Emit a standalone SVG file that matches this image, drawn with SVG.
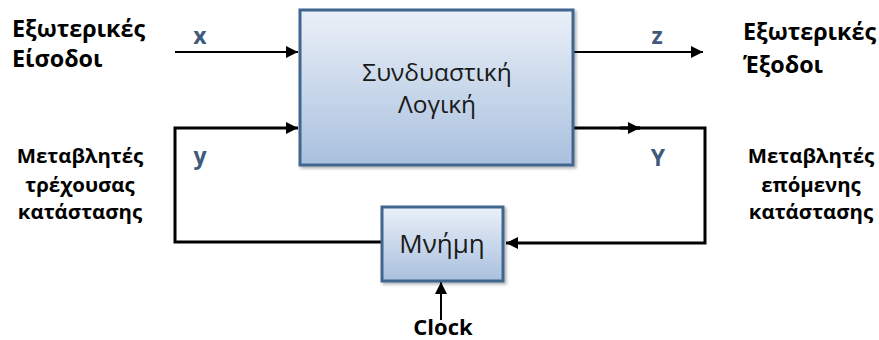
<svg xmlns="http://www.w3.org/2000/svg" width="879" height="340" viewBox="0 0 879 340">
<defs>
<linearGradient id="g" x1="0" y1="0" x2="0" y2="1">
<stop offset="0" stop-color="#EAF0F8"/>
<stop offset="1" stop-color="#A9C0DE"/>
</linearGradient>
<marker id="ah" viewBox="0 0 10 10" refX="10" refY="5" markerWidth="16" markerHeight="12" markerUnits="userSpaceOnUse" orient="auto">
<path d="M0,0 L10,5 L0,10 z" fill="#000"/>
</marker>
<filter id="sh" x="-10%" y="-10%" width="130%" height="130%">
<feDropShadow dx="2" dy="2" stdDeviation="1.5" flood-color="#000" flood-opacity="0.3"/>
</filter>
</defs>
<style>
.box{fill:url(#g);stroke:#41658F;stroke-width:3;filter:url(#sh)}
.ln{fill:none;stroke:#000;stroke-width:3}
.thin{fill:none;stroke:#000;stroke-width:2}
.t{font-family:"Open Sans","Noto Sans",sans-serif;font-weight:bold;font-size:20.4px;fill:#000}
.tl{font-family:"Open Sans","Noto Sans",sans-serif;font-weight:bold;font-size:23.3px;fill:#000}
.bt{font-family:"Open Sans","Noto Sans",sans-serif;font-size:24.5px;fill:#1a1a1a}
.v{font-family:"Open Sans","Noto Sans",sans-serif;font-weight:bold;font-size:23px;fill:#3F5A7C}
</style>
<g id="connectors">
<path class="thin" d="M175,52 H298" marker-end="url(#ah)"/>
<path class="thin" d="M574,52 H703" marker-end="url(#ah)"/>
<path class="ln" d="M381,242 H175 V128 H298" marker-end="url(#ah)"/>
<path class="ln" d="M574,128 H640"/>
<path class="ln" d="M620,128 H640" marker-end="url(#ah)"/>
<path class="ln" d="M630,128 H705 V243 H506" marker-end="url(#ah)"/>
<path class="thin" d="M441,320 V282" marker-end="url(#ah)"/>
</g>
<g id="logic">
<rect class="box" x="300" y="10" width="273" height="155"/>
<text class="bt" x="437" y="81" text-anchor="middle">Συνδυαστική</text>
<text class="bt" x="437" y="113" text-anchor="middle">Λογική</text>
</g>
<g id="memory">
<rect class="box" x="382" y="207" width="121" height="74"/>
<text class="bt" x="442" y="253" text-anchor="middle" style="font-size:26px">Μνήμη</text>
</g>
<g id="labels">
<text class="tl" x="12" y="37">Εξωτερικές</text>
<text class="tl" x="12" y="67">Είσοδοι</text>
<text class="tl" x="743" y="40">Εξωτερικές</text>
<text class="tl" x="743" y="73">Έξοδοι</text>
<text class="t" x="80" y="163" text-anchor="middle">Μεταβλητές</text>
<text class="t" x="80" y="192" text-anchor="middle">τρέχουσας</text>
<text class="t" x="80" y="219" text-anchor="middle">κατάστασης</text>
<text class="t" x="811" y="163" text-anchor="middle">Μεταβλητές</text>
<text class="t" x="811" y="192" text-anchor="middle">επόμενης</text>
<text class="t" x="811" y="219" text-anchor="middle">κατάστασης</text>
<text class="tl" x="443" y="335" text-anchor="middle" style="font-size:22px">Clock</text>
<text class="v" x="200" y="44" text-anchor="middle">x</text>
<text class="v" x="657" y="44" text-anchor="middle">z</text>
<text class="v" x="200" y="164" text-anchor="middle">y</text>
<text class="v" x="658" y="166" text-anchor="middle">Y</text>
</g>
</svg>
